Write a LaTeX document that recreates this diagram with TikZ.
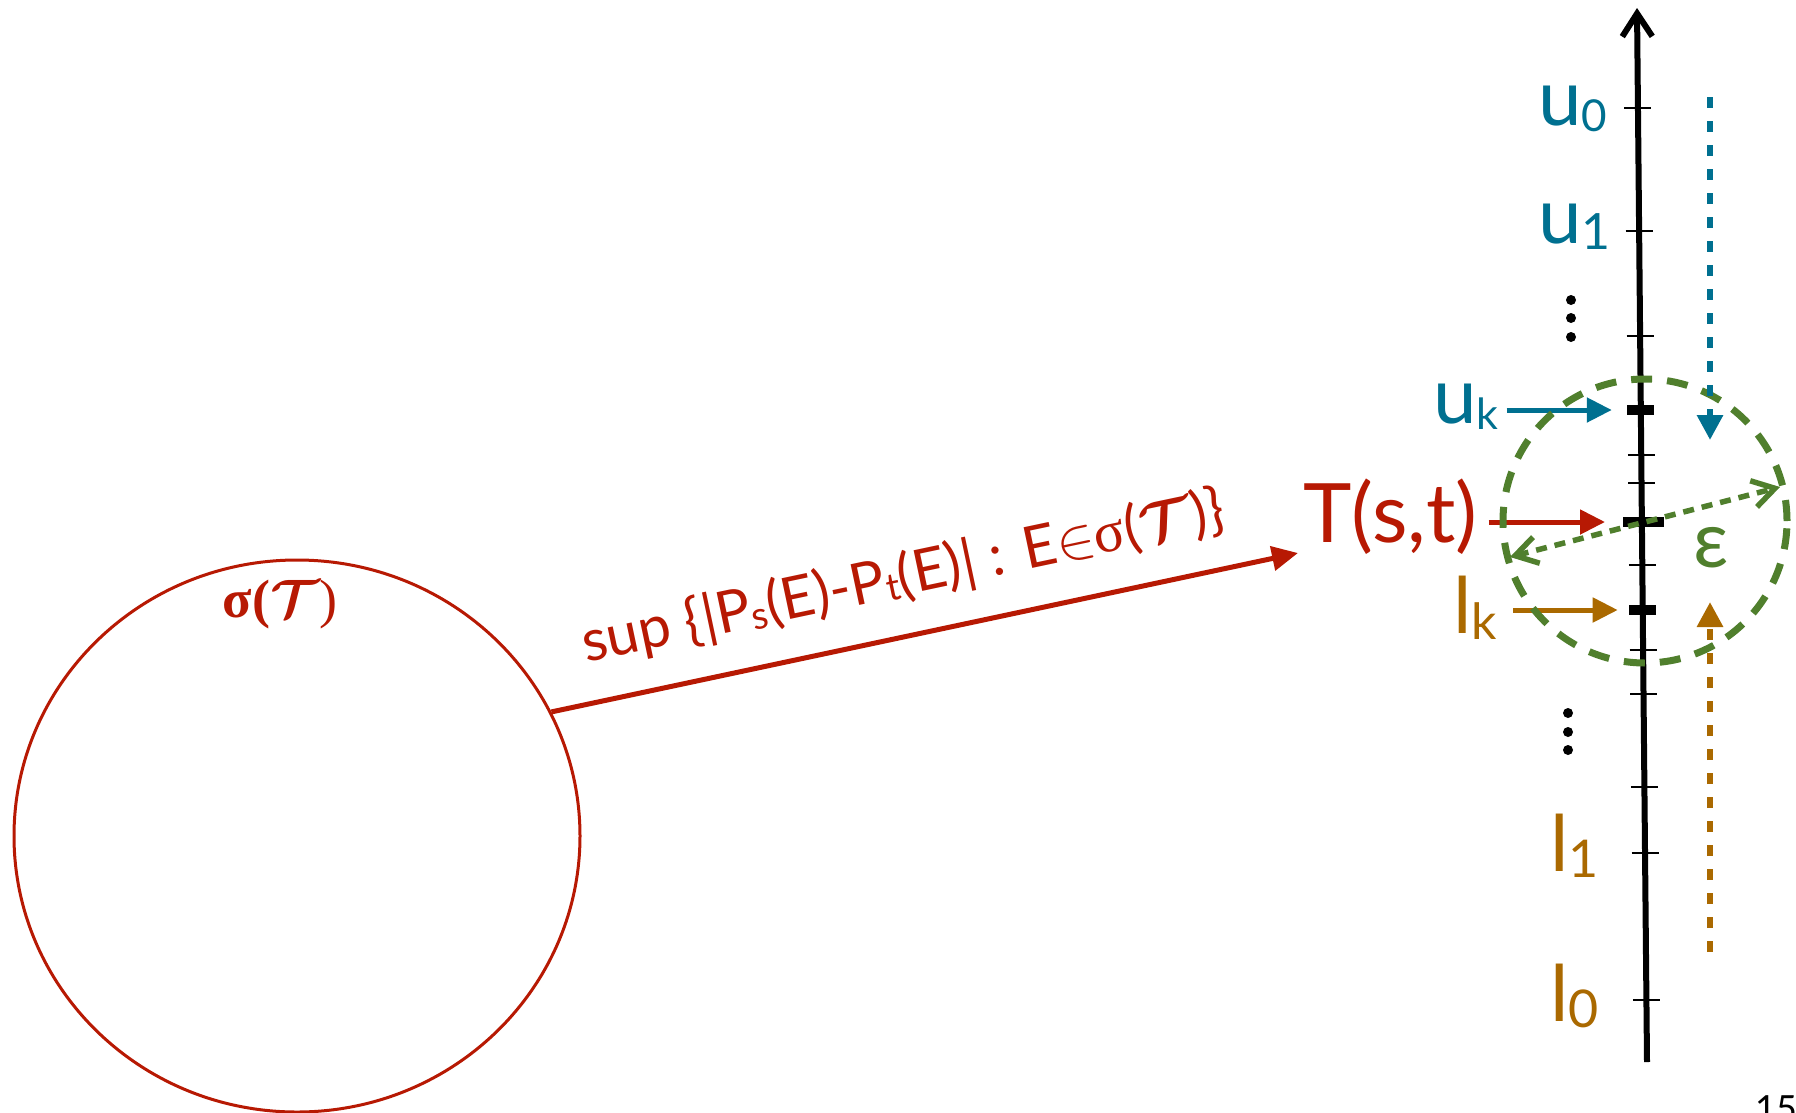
\RequirePackage{fix-cm}
\documentclass[tikz,border=0pt]{standalone}
\usepackage{fontspec}
\setmainfont{Lato}
\newfontfamily\serifgr{Liberation Serif}
\usetikzlibrary{arrows.meta,shapes.geometric}
\definecolor{cred}{RGB}{183,25,3}
\definecolor{cblue}{RGB}{0,112,144}
\definecolor{corange}{RGB}{170,105,0}
\definecolor{cgreen}{RGB}{80,127,45}
\newcommand{\lsub}[2]{\raisebox{-6pt}{\fontsize{#1}{#1}\selectfont #2}}
\begin{document}
\begin{tikzpicture}[x=1pt,y=-1pt,
  lbl/.style={inner sep=0pt, anchor=base west, font=\fontsize{78}{80}\selectfont},
  tickthin/.style={line width=2.5pt},
  tickthick/.style={line width=10pt},
  solidarr/.style={line width=5pt, -{Triangle[length=25pt,width=24pt]}},
  dasharr/.style={line width=6pt, dash pattern=on 11pt off 13pt, -{Triangle[length=25pt,width=25pt]}},
]
\useasboundingbox (0,0) rectangle (1796,1112);

% left set
\node[draw=cred, line width=3pt, ellipse, minimum width=566pt, minimum height=552pt, inner sep=0pt] (sig) at (297,836) {};
\node[cred, inner sep=0pt, anchor=base, font=\fontsize{54}{56}\selectfont] (sigl) at (280,617) {{\serifgr\bfseries σ(}{\boldmath$\mathcal{T}$}{\serifgr )}};

\coordinate (supend) at (1298,553);
\draw[cred, line width=5pt, -{Triangle[length=26pt,width=24pt]}] (sig.26) -- (supend);
\node[cred, inner sep=0pt, anchor=base, rotate=11.93, font=\fontsize{58}{60}\selectfont] (suplbl) at (907,595)
  {sup \{|P\raisebox{-3pt}{\fontsize{38}{38}\selectfont s}(E)-P\raisebox{-3pt}{\fontsize{38}{38}\selectfont t}(E)| : E$\in${\serifgr σ}({\boldmath$\mathcal{T}$})\}};

% axis
\draw[line width=6pt, -{Straight Barb[length=23pt,width=30pt]}] (1647,1062) -- (1637,8);
\foreach \yy in {108,231,336,455,483,565,650,694,787,853,1000} {
  \pgfmathsetmacro\xx{1637+(\yy-8)*0.009488}
  \draw[tickthin] (\xx-13.5,\yy) -- (\xx+13.5,\yy);
}
\coordinate (puk) at (1640.8,410);
\coordinate (pT) at (1642,522);
\coordinate (plk) at (1642.7,610);
\draw[tickthick] (1627,410) -- (1654,410);
\draw[tickthick] (1623,522) -- (1664,522);
\draw[tickthick] (1629,610) -- (1656,610);

% labels
\node[lbl, cblue] (u0) at (1538,125) {u\lsub{44}{0}};
\node[lbl, cblue] (u1) at (1538,243) {u\lsub{50}{1}};
\node[lbl, cblue] (uk) at (1433,423) {u\lsub{43}{k}};
\node[lbl, cred, font=\fontsize{82}{84}\selectfont] (Tst) at (1303,542) {T(s,t)};
\node[lbl, corange] (lk) at (1453,633) {l\lsub{50}{k}};
\node[lbl, corange] (l1) at (1550,871) {l\lsub{52}{1}};
\node[lbl, corange] (l0) at (1550,1021) {l\lsub{52}{0}};
\node[lbl, cgreen] (eps) at (1693,567) {ε};

% vertical dots
\foreach \yy in {300,318,337} \fill (1571,\yy) circle[radius=5pt];
\foreach \yy in {713,732,750} \fill (1568,\yy) circle[radius=5pt];

% arrows to ticks
\draw[solidarr, cblue, shorten <=8pt, shorten >=29pt] (uk.east |- puk) -- (puk);
\draw[solidarr, cred, shorten <=11pt, shorten >=37pt] (Tst.east |- pT) -- (pT);
\draw[solidarr, corange, shorten <=16pt, shorten >=25pt] (lk.east |- plk) -- (plk);

% epsilon neighbourhood
\node[draw=cgreen, line width=7pt, dash pattern=on 21pt off 15pt, circle, minimum size=284pt, inner sep=0pt] (epsc) at (1645,521) {};
\coordinate (ea) at (1510,557);
\coordinate (eb) at (1780,487);
\draw[cgreen, line width=5.5pt, dash pattern=on 11pt off 8pt, {Straight Barb[length=22pt,width=27pt]}-{Straight Barb[length=22pt,width=27pt]}] (ea) -- (eb);

% dashed convergence arrows
\coordinate (bu0) at (1710,97);
\coordinate (bu1) at (1710,440);
\draw[dasharr, cblue] (bu0) -- (bu1);
\coordinate (bl0) at (1710,952);
\coordinate (bl1) at (1710,602);
\draw[dasharr, corange] (bl0) -- (bl1);

% page number
\node[inner sep=0pt, anchor=base west, font=\fontsize{36}{38}\selectfont] (pg) at (1755,1121) {15};
\end{tikzpicture}
\end{document}
